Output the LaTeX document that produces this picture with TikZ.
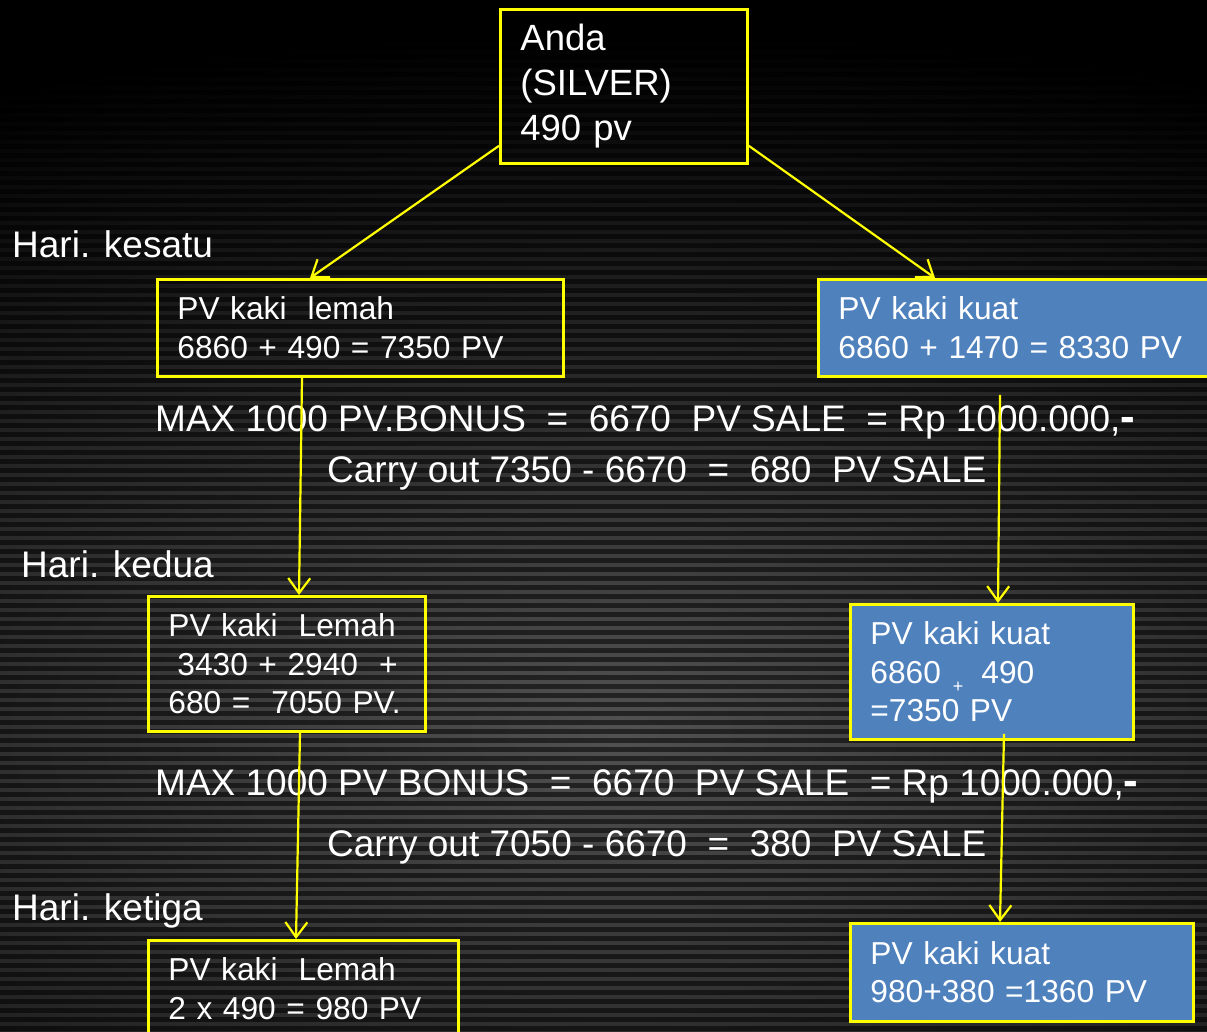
\documentclass[tikz,border=0pt]{standalone}
\usepackage{fontspec}
\setmainfont{Liberation Sans}
\usepackage{tikz}
\usetikzlibrary{arrows.meta,calc}
\definecolor{kuatblue}{RGB}{79,129,189}
\definecolor{pvyellow}{RGB}{255,255,0}
\tikzset{
  pvbox/.style={draw=pvyellow, line width=2.8pt, anchor=north west, inner xsep=20pt, inner ysep=0pt,
    align=left, text=white, font=\fontsize{31.7}{38.5}\selectfont},
  kuatbox/.style={pvbox, fill=kuatblue},
  harilabel/.style={anchor=base west, inner sep=0pt, text=white, font=\fontsize{37}{44}\selectfont},
  pvarrow/.style={draw=pvyellow, line width=2.2pt, -{Straight Barb[length=15pt,width=22pt]}}
}

\begin{document}
\begin{tikzpicture}[x=1pt,y=-1pt]
\useasboundingbox (0,0) rectangle (1207,1031);
\clip (0,0) rectangle (1207,1031);
% background
\fill[black] (0,0) rectangle (1207,1031);
\shade[inner color=white!32!black, outer color=black] (620,730) ellipse [x radius=1500pt, y radius=700pt];
\foreach \y in {0,9,...,1035}
  \fill[black,opacity=.55] (0,\y) rectangle (1207,\y+4.5);

% boxes
\node[pvbox, font=\fontsize{36.5}{45}\selectfont, text width=207pt, minimum height=154pt] (anda) at (499,8)
  {Anda\\(SILVER)\\490 pv};
\node[pvbox, text width=366pt, minimum height=97pt] (lemah1) at (156,278)
  {PV kaki~ lemah\\6860 + 490 = 7350 PV};
\node[kuatbox, text width=360pt, minimum height=97pt] (kuat1) at (817,278)
  {PV kaki kuat\\6860 + 1470 = 8330 PV};
\node[pvbox, text width=237pt, minimum height=135pt] (lemah2) at (147,595)
  {PV kaki~ Lemah\\\hspace*{9pt}3430 + 2940~ +\\680 =~ 7050 PV.};
\node[kuatbox, text width=243pt, minimum height=135pt] (kuat2) at (849,603)
  {PV kaki kuat\\6860\hspace{12pt}\raisebox{-9pt}{\fontsize{18}{18}\selectfont +}\hspace{18pt}490\\=7350 PV};
\node[pvbox, text width=270pt, minimum height=97pt] (lemah3) at (147,939)
  {PV kaki~ Lemah\\2 x 490 = 980 PV};
\node[kuatbox, text width=303pt, minimum height=98pt] (kuat3) at (849,922)
  {PV kaki kuat\\980+380 =1360 PV};

% day labels and sums
\node[harilabel] (hari1) at (12,257) {Hari. kesatu};
\node[harilabel] (hari2) at (21,577) {Hari. kedua};
\node[harilabel] (hari3) at (12,920) {Hari. ketiga};
\node[harilabel] (max1) at (155,431) {MAX 1000 PV.BONUS~ =~ 6670~ PV SALE~ = Rp 1000.000,{\fontsize{44}{44}\selectfont\bfseries -}};
\node[harilabel] (carry1) at (327,482) {Carry out 7350 - 6670~ =~ 680~ PV SALE};
\node[harilabel] (max2) at (155,795) {MAX 1000 PV BONUS~ =~ 6670~ PV SALE~ = Rp 1000.000,{\fontsize{44}{44}\selectfont\bfseries -}};
\node[harilabel] (carry2) at (327,856) {Carry out 7050 - 6670~ =~ 380~ PV SALE};

% arrows
\draw[pvarrow] ([yshift=19pt]anda.south west) -- ([xshift=154pt]lemah1.north west);
\draw[pvarrow] ([yshift=19pt]anda.south east) -- ([xshift=118pt]kuat1.north west);
\draw[pvarrow] ([xshift=146pt]lemah1.south west) -- ([xshift=152pt]lemah2.north west);
\draw[pvarrow] ([xshift=183pt,yshift=-17pt]kuat1.south west) -- ([xshift=149pt]kuat2.north west);
\draw[pvarrow] ([xshift=153pt]lemah2.south west) -- ([xshift=149pt]lemah3.north west);
\draw[pvarrow] ([xshift=155pt,yshift=7pt]kuat2.south west) -- ([xshift=151pt]kuat3.north west);
\end{tikzpicture}
\end{document}
